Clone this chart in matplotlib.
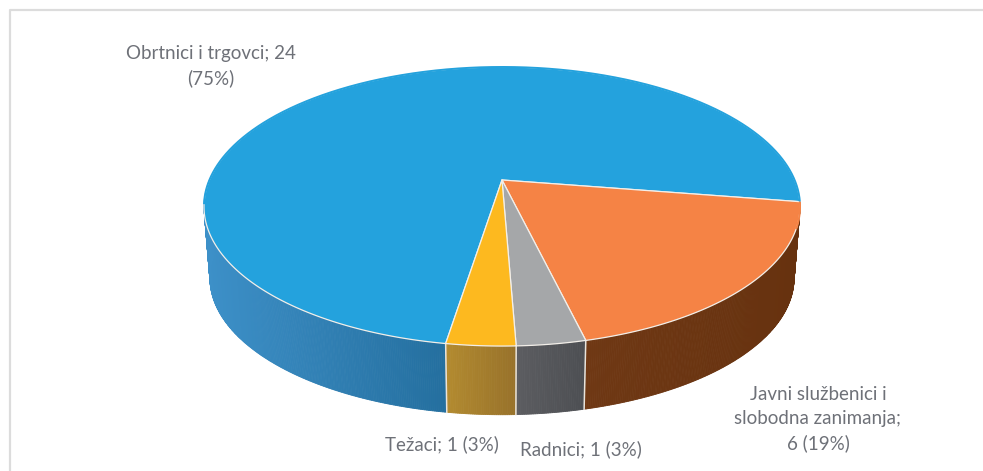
import numpy as np
import matplotlib
matplotlib.use("Agg")
import matplotlib.pyplot as plt
from matplotlib.patches import Polygon
from matplotlib.colors import to_rgb

# Data
categories = ["Obrtnici i trgovci", "Javni službenici i slobodna zanimanja", "Radnici", "Težaci"]
values = [24, 6, 1, 1]
label_texts = ["Obrtnici i trgovci; 24\n(75%)",
               "Javni službenici i\nslobodna zanimanja;\n6 (19%)",
               "Radnici; 1 (3%)",
               "Težaci; 1 (3%)"]

# Styles
top_colors = ["#24a2dd", "#f58345", "#a5a7a9", "#fdb91f"]
wall_left = ["#3d90c8", "#6f3814", "#5c5d61", "#b38b30"]
wall_right = ["#246f9f", "#67320f", "#4d4f53", "#98722a"]
label_pos = [(211, 66), (818, 419), (581, 449), (442, 444)]
text_color = "#6e7178"
START = 261.0      # clockwise from here, degrees
CX, CY, A, B, K = 502.0, 180.0, 292.6, 134.5, 0.19
DEPTH_Y, SCALE = 72.0, 0.98

plt.rcParams["font.family"] = ["Lato", "DejaVu Sans"]
fig = plt.figure(figsize=(9.83, 4.71), dpi=100)
ax = fig.add_axes([0, 0, 1, 1])
ax.set_xlim(0, 983)
ax.set_ylim(471, 0)
ax.axis("off")


def project(deg, bottom=False):
    t = np.radians(np.asarray(deg, dtype=float))
    x, y = np.cos(t), np.sin(t)
    d = 1 + K * y
    s = SCALE if bottom else 1.0
    return CX + s * A * x / d, CY + (DEPTH_Y if bottom else 0) - s * B * y / d


# Chart frame: left and top edges only, both running off the image
ax.plot([9.5, 9.5, 983], [471, 9.5, 9.5], color="#dcdcdc", lw=1.6, zorder=0)

fractions = np.array(values) / sum(values)
edges = START - np.concatenate([[0], np.cumsum(fractions)]) * 360

# Walls, painted left-to-right with a shading ramp; only the first front-facing run
for i in range(len(values)):
    a0, a1 = edges[i], edges[i + 1]
    grid = np.linspace(a0, a1, max(int(abs(a1 - a0) * 3), 8))
    front = np.sin(np.radians(grid)) < 0.0
    stop = np.argmin(front) if not front.all() else len(grid)
    grid = grid[:stop]
    xt, yt = project(grid)
    xb, yb = project(grid, bottom=True)
    c_l, c_r = np.array(to_rgb(wall_left[i])), np.array(to_rgb(wall_right[i]))
    xmin, xmax = xt.min(), xt.max()
    for j in range(len(grid) - 1):
        f = np.clip((xt[j] - xmin) / (xmax - xmin), 0, 1)
        col = c_l + (c_r - c_l) * f
        ax.add_patch(Polygon([(xt[j], yt[j]), (xt[j + 1], yt[j + 1]),
                              (xb[j + 1], yb[j + 1]), (xb[j], yb[j])],
                             closed=True, fc=col, ec=col, lw=0.6, zorder=1))

# Separators on the front wall (the blue/orange edge sits on the silhouette: none)
for e in edges[2:-1].tolist() + [float(edges[0])]:
    xa, ya = project(e)
    xb_, yb_ = project(e, bottom=True)
    ax.plot([xa, xb_], [ya, yb_], color="#e9e4dc", lw=1.1, zorder=2)

# Top face
for i in range(len(values)):
    grid = np.linspace(edges[i], edges[i + 1], 400)
    xt, yt = project(grid)
    pts = np.vstack([[CX, CY], np.column_stack([xt, yt])])
    ax.add_patch(Polygon(pts, closed=True, fc=top_colors[i], ec="#f3efe9", lw=0.9,
                         joinstyle="round", zorder=3))

# Remove the pale rim on the rear arc, where the reference has none
grid = np.linspace(190, edges[1], 600)
xt, yt = project(grid)
ax.plot(xt, yt, color=top_colors[0], lw=1.4, zorder=4, solid_capstyle="butt")
grid = np.linspace(edges[1], edges[1] - 11, 60)
xt, yt = project(grid)
ax.plot(xt, yt, color=top_colors[1], lw=1.4, zorder=4, solid_capstyle="butt")

# Labels
for txt, (lx, ly) in zip(label_texts, label_pos):
    ax.text(lx, ly, txt, ha="center", va="center", color=text_color,
            fontsize=13.5, linespacing=1.5, zorder=5)

fig.savefig("out.png", dpi=100, facecolor="white")
